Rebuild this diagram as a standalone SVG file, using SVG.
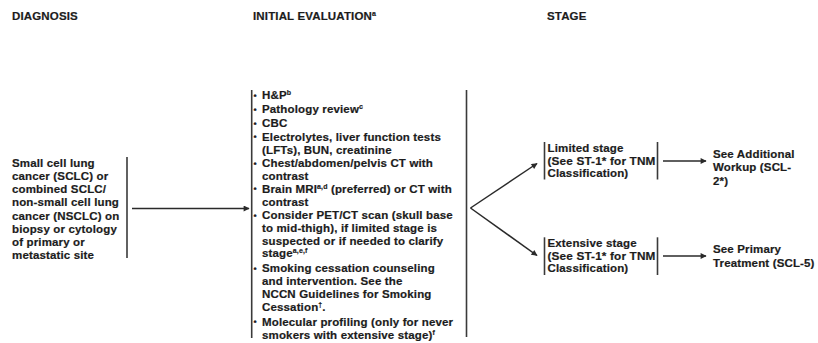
<svg xmlns="http://www.w3.org/2000/svg" width="818" height="343" viewBox="0 0 818 343">
<style>
text{font-family:"Liberation Sans",Arial,sans-serif;font-weight:bold;font-size:11.5px;fill:#1c1c1c;letter-spacing:0.15px;stroke:#1c1c1c;stroke-width:0.2px}
.sup{font-size:7px}
.bar{stroke:#3a3a3a;stroke-width:1.6;fill:none}
.con{stroke:#2a2a2a;stroke-width:1.5;fill:none;marker-end:url(#ah)}
.bul{font-size:9px}
</style>
<defs>
<marker id="ah" viewBox="0 0 10 10" refX="9" refY="5" markerWidth="8" markerHeight="6" markerUnits="userSpaceOnUse" orient="auto">
<path d="M0,0 L10,5 L0,10 z" fill="#2a2a2a"/>
</marker>
</defs>
<rect width="818" height="343" fill="#ffffff"/>
<g id="headers">
<text x="12" y="20">DIAGNOSIS</text>
<text x="253" y="20">INITIAL EVALUATION<tspan class="sup" dy="-4">a</tspan></text>
<text x="547" y="20">STAGE</text>
</g>
<g id="diagnosis">
<text x="12" y="167">Small cell lung</text>
<text x="12" y="180.1">cancer (SCLC) or</text>
<text x="12" y="193.3">combined SCLC/</text>
<text x="12" y="206.4">non-small cell lung</text>
<text x="12" y="219.6">cancer (NSCLC) on</text>
<text x="12" y="232.7">biopsy or cytology</text>
<text x="12" y="245.9">of primary or</text>
<text x="12" y="259">metastatic site</text>
<line class="bar" x1="127" y1="157" x2="127" y2="258"/>
</g>
<g id="initial-evaluation">
<line class="bar" x1="251.7" y1="90" x2="251.7" y2="338"/>
<line class="bar" x1="466.5" y1="90" x2="466.5" y2="337"/>
<text class="bul" x="253.5" y="98.5">•</text>
<text x="262" y="99">H&amp;P<tspan class="sup" dy="-4">b</tspan></text>
<text class="bul" x="253.5" y="112.8">•</text>
<text x="262" y="113.3">Pathology review<tspan class="sup" dy="-4">c</tspan></text>
<text class="bul" x="253.5" y="126.8">•</text>
<text x="262" y="127.3">CBC</text>
<text class="bul" x="253.5" y="140.2">•</text>
<text x="262" y="140.7">Electrolytes, liver function tests</text>
<text x="262" y="154">(LFTs), BUN, creatinine</text>
<text class="bul" x="253.5" y="166.8">•</text>
<text x="262" y="167.3">Chest/abdomen/pelvis CT with</text>
<text x="262" y="180">contrast</text>
<text class="bul" x="253.5" y="192.3">•</text>
<text x="262" y="192.8">Brain MRI<tspan class="sup" dy="-4">a,d</tspan><tspan dy="4"> (preferred) or CT with</tspan></text>
<text x="262" y="205.5">contrast</text>
<text class="bul" x="253.5" y="218.5">•</text>
<text x="262" y="219">Consider PET/CT scan (skull base</text>
<text x="262" y="232.3">to mid-thigh), if limited stage is</text>
<text x="262" y="244.7">suspected or if needed to clarify</text>
<text x="262" y="257.3">stage<tspan class="sup" dy="-4">a,e,f</tspan></text>
<text class="bul" x="253.5" y="271.8">•</text>
<text x="262" y="272.3">Smoking cessation counseling</text>
<text x="262" y="285">and intervention. See the</text>
<text x="262" y="298">NCCN Guidelines for Smoking</text>
<text x="262" y="311.3">Cessation<tspan class="sup" dy="-4">†</tspan><tspan dy="4">.</tspan></text>
<text class="bul" x="253.5" y="325.2">•</text>
<text x="262" y="325.7">Molecular profiling (only for never</text>
<text x="262" y="339">smokers with extensive stage)<tspan class="sup" dy="-4">f</tspan></text>
</g>
<g id="limited-stage">
<line class="bar" x1="544.5" y1="142" x2="544.5" y2="179.5"/>
<line class="bar" x1="657.5" y1="142" x2="657.5" y2="179.5"/>
<text x="547.5" y="152.3">Limited stage</text>
<text x="547.5" y="164.8" textLength="108" lengthAdjust="spacingAndGlyphs">(See ST-1* for TNM</text>
<text x="547.5" y="177.3">Classification)</text>
</g>
<g id="extensive-stage">
<line class="bar" x1="544.5" y1="237.3" x2="544.5" y2="275"/>
<line class="bar" x1="657.5" y1="237.3" x2="657.5" y2="275"/>
<text x="547.5" y="247.3">Extensive stage</text>
<text x="547.5" y="260" textLength="108" lengthAdjust="spacingAndGlyphs">(See ST-1* for TNM</text>
<text x="547.5" y="272.3">Classification)</text>
</g>
<g id="additional-workup">
<text x="713" y="158">See Additional</text>
<text x="713" y="171.3">Workup (SCL-</text>
<text x="713" y="184.7">2*)</text>
</g>
<g id="primary-treatment">
<text x="713" y="253">See Primary</text>
<text x="713" y="266.7">Treatment (SCL-5)</text>
</g>
<g id="connectors">
<line class="con" x1="132" y1="208.5" x2="249" y2="208.5"/>
<line class="con" x1="470.5" y1="208" x2="537" y2="163.5"/>
<line class="con" x1="470.5" y1="208" x2="537" y2="255.5"/>
<line class="con" x1="663" y1="161" x2="706" y2="161"/>
<line class="con" x1="663" y1="256" x2="706" y2="256"/>
</g>
</svg>
